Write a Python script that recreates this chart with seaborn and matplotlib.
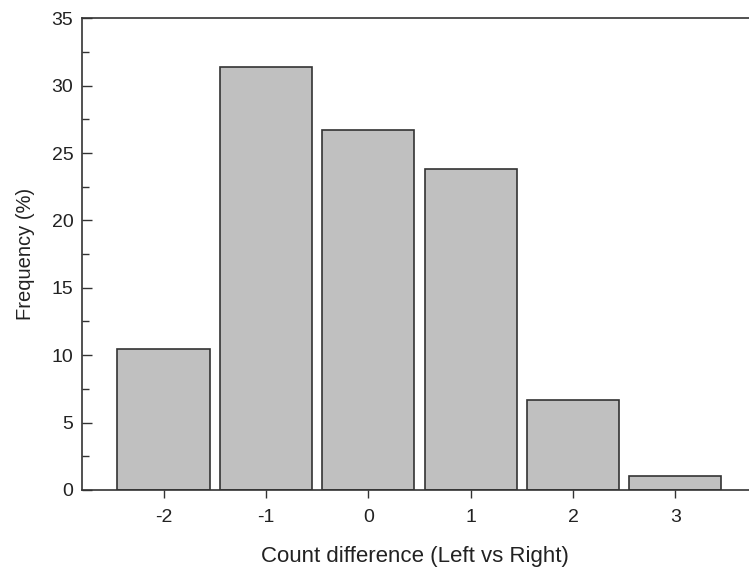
import numpy as np
import pandas as pd
import matplotlib
matplotlib.use("Agg")
import matplotlib.pyplot as plt
from matplotlib.ticker import MultipleLocator
import seaborn as sns

# data
count_diff = ["-2", "-1", "0", "1", "2", "3"]
frequency = [10.45, 31.4, 26.7, 23.8, 6.67, 1.0]

df = pd.DataFrame({"diff": count_diff, "freq": frequency})

sns.set_style("white")
plt.rcParams['font.family'] = ['Liberation Sans', 'DejaVu Sans']

fig = plt.figure(figsize=(7.49, 5.71), dpi=100)
ax = fig.add_axes([0.109, 0.142, 0.891, 0.826])

sns.barplot(data=df, x="diff", y="freq", order=count_diff,
            color="#c0c0c0", saturation=1, width=0.9,
            edgecolor="#333333", linewidth=1.2, ax=ax)

ax.set_xlim(-0.8, 5.72)
ax.set_ylim(0, 35)
ax.yaxis.set_major_locator(MultipleLocator(5))
ax.yaxis.set_minor_locator(MultipleLocator(2.5))

ax.tick_params(axis="y", which="both", direction="in", left=True,
               labelsize=14, colors="#333333", labelcolor="#222222", pad=6)
ax.tick_params(axis="y", which="major", length=7, width=1)
ax.tick_params(axis="y", which="minor", length=5, width=1)
ax.tick_params(axis="x", direction="out", bottom=True, length=6, width=1,
               labelsize=14, colors="#333333", labelcolor="#222222", pad=8)

for side in ["left", "bottom", "top"]:
    ax.spines[side].set_color("#333333")
    ax.spines[side].set_linewidth(1.2)
ax.spines["right"].set_visible(False)

ax.set_xlabel("Count difference (Left vs Right)", fontsize=16, color="#222222", labelpad=14)
ax.set_ylabel("Frequency (%)", fontsize=14.5, color="#222222", labelpad=12)

fig.savefig("out.png", dpi=100)
